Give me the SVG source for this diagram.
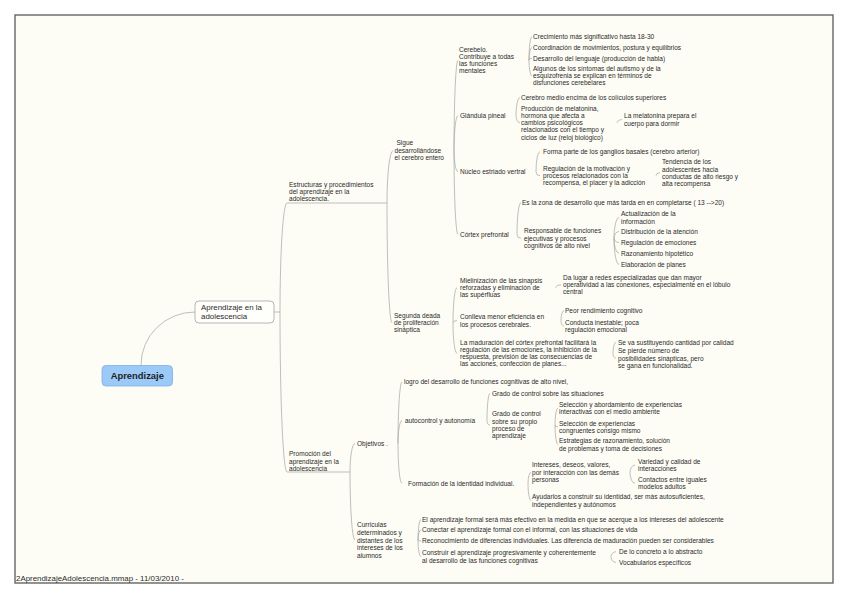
<svg xmlns="http://www.w3.org/2000/svg" width="848" height="599" viewBox="0 0 848 599">
<style>
.t{font-family:"Liberation Sans",Arial,sans-serif;font-size:6.55px;fill:#2b2b2b}
.c{fill:none;stroke:#a3a3a3;stroke-width:0.7}
.u{fill:none;stroke:#a3a3a3;stroke-width:0.7}
</style>
<rect x="0" y="0" width="848" height="599" fill="#ffffff"/>
<rect x="15" y="15" width="818" height="568" fill="#fdfdf6" stroke="#5a5a5a" stroke-width="1.3"/>
<g id="connectors">
<path class="c" d="M141,365 A54,53 0 0 1 195,312"/>
<path class="c" d="M274,312 H280"/>
<path class="c" d="M280,312 A7,109 0 0 1 287,203"/>
<path class="c" d="M280,312 A7,160 0 0 0 287,472"/>
<path class="c" d="M387,203 A6,52.3 0 0 1 393,150.7"/>
<path class="c" d="M387,203 A5,119.7 0 0 0 392,322.7"/>
<path class="c" d="M454,150.7 A4,90.4 0 0 1 458,60.3"/>
<path class="c" d="M454,150.7 A4,35.2 0 0 1 458,115.5"/>
<path class="c" d="M454,150.7 A4,21 0 0 0 458,171.7"/>
<path class="c" d="M454,150.7 A4,83.8 0 0 0 458,234.5"/>
<path class="c" d="M529,60.3 A3,23.6 0 0 1 532,36.7"/>
<path class="c" d="M529,60.3 A3,12.8 0 0 1 532,47.5"/>
<path class="c" d="M529,60.3 A3,2 0 0 1 532,58.3"/>
<path class="c" d="M529,60.3 A3,15.6 0 0 0 532,75.9"/>
<path class="c" d="M516,115.5 A4,18 0 0 1 520,97.5"/>
<path class="c" d="M516,115.5 A4,7.4 0 0 0 520,122.9"/>
<path class="c" d="M617,122.9 A5,3.3 0 0 1 622,119.6"/>
<path class="c" d="M536,171.7 A4,20.2 0 0 1 540,151.5"/>
<path class="c" d="M536,171.7 A4,4 0 0 0 540,175.7"/>
<path class="c" d="M656,175.7 A4,2.9 0 0 1 660,172.8"/>
<path class="c" d="M517,234.5 A4,32 0 0 1 521,202.5"/>
<path class="c" d="M517,234.5 A4,3.7 0 0 0 521,238.2"/>
<path class="c" d="M614,238.2 A5,20.6 0 0 1 619,217.6"/>
<path class="c" d="M614,238.2 A5,6.7 0 0 1 619,231.5"/>
<path class="c" d="M614,238.2 A5,4.3 0 0 0 619,242.5"/>
<path class="c" d="M614,238.2 A5,15.1 0 0 0 619,253.3"/>
<path class="c" d="M614,238.2 A5,26.3 0 0 0 619,264.5"/>
<path class="c" d="M453,322.7 A4,35 0 0 1 457,287.7"/>
<path class="c" d="M453,322.7 A4,2.1 0 0 1 457,320.6"/>
<path class="c" d="M453,322.7 A4,30.6 0 0 0 457,353.3"/>
<path class="c" d="M556,287.7 A5,2.8 0 0 1 561,284.9"/>
<path class="c" d="M561,320.6 A3,9.9 0 0 1 564,310.7"/>
<path class="c" d="M561,320.6 A3,5.5 0 0 0 564,326.1"/>
<path class="c" d="M613,353.3 A3,11 0 0 1 616,342.3"/>
<path class="c" d="M613,353.3 A3,4.9 0 0 0 616,358.2"/>
<path class="c" d="M350,472 A5,28.5 0 0 1 355,443.5"/>
<path class="c" d="M350,472 A5,68 0 0 0 355,540"/>
<path class="c" d="M398,443.5 A4,61.5 0 0 1 402,382"/>
<path class="c" d="M398,443.5 A4,23 0 0 1 402,420.5"/>
<path class="c" d="M398,443.5 A4,40 0 0 0 402,483.5"/>
<path class="c" d="M487,420.5 A3,27.2 0 0 1 490,393.3"/>
<path class="c" d="M487,420.5 A3,4.5 0 0 0 490,425"/>
<path class="c" d="M555,425 A3,17.1 0 0 1 558,407.9"/>
<path class="c" d="M555,425 A3,1.9 0 0 0 558,426.9"/>
<path class="c" d="M555,425 A3,19.6 0 0 0 558,444.6"/>
<path class="c" d="M528,483.5 A3,11.1 0 0 1 531,472.4"/>
<path class="c" d="M528,483.5 A3,17.1 0 0 0 531,500.6"/>
<path class="c" d="M630,472.4 A5,7.3 0 0 1 635,465.1"/>
<path class="c" d="M630,472.4 A5,10.9 0 0 0 635,483.3"/>
<path class="c" d="M418,540 A3,20.5 0 0 1 421,519.5"/>
<path class="c" d="M418,540 A3,10 0 0 1 421,530"/>
<path class="c" d="M418,540 A3,1 0 0 0 421,541"/>
<path class="c" d="M418,540 A3,16.8 0 0 0 421,556.8"/>
<path class="c" d="M611,556.8 A5,5.1 0 0 1 616,551.7"/>
<path class="c" d="M611,556.8 A5,5.7 0 0 0 616,562.5"/>
</g>
<g id="root">
<rect x="102" y="365.5" width="70.5" height="20.5" rx="4" fill="#9ccaf8" stroke="#7eaee0" stroke-width="0.8"/>
<text x="137.3" y="379.3" text-anchor="middle" style="font-family:'Liberation Sans',Arial,sans-serif;font-size:9.4px;font-weight:bold;fill:#1e1e1e">Aprendizaje</text>
</g>
<g id="n-adolescencia">
<rect x="195" y="301" width="79" height="22" rx="4" fill="#fefefb" stroke="#9a9a9a" stroke-width="0.7"/>
<text x="201" y="309.5" style="font-family:'Liberation Sans',Arial,sans-serif;font-size:7.9px;fill:#2b2b2b"><tspan x="201">Aprendizaje en la</tspan><tspan x="201" dy="9.5">adolescencia</tspan></text>
</g>
<g id="n-estructuras">
<text class="t" y="186.8"><tspan x="289">Estructuras y procedimientos</tspan><tspan x="289" dy="7.2">del aprendizaje en la</tspan><tspan x="289" dy="7.2">adolescencia.</tspan></text>
<path class="u" d="M287,203 H387"/>
</g>
<g id="n-promocion">
<text class="t" y="456.3"><tspan x="289">Promoción del</tspan><tspan x="289" dy="7.2">aprendizaje en la</tspan><tspan x="289" dy="7.2">adolescencia</tspan></text>
<path class="u" d="M287,472 H350"/>
</g>
<g id="n-sigue">
<text class="t" y="145.2"><tspan x="396.5">Sigue</tspan><tspan x="394.5" dy="7.4">desarrollándose</tspan><tspan x="394.5" dy="7.4">el cerebro entero</tspan></text>
</g>
<g id="n-segunda">
<text class="t" y="317.8"><tspan x="394">Segunda deada</tspan><tspan x="394" dy="7.2">de proliferación</tspan><tspan x="394" dy="7.2">sináptica</tspan></text>
</g>
<g id="n-cerebelo">
<text class="t" y="51.8"><tspan x="459">Cerebelo.</tspan><tspan x="459" dy="7.2">Contribuye a todas</tspan><tspan x="459" dy="7.2">las funciones</tspan><tspan x="459" dy="7.2">mentales</tspan></text>
</g>
<g id="n-crecimiento"><text class="t" x="533" y="39">Crecimiento más significativo hasta 18-30</text></g>
<g id="n-coordinacion"><text class="t" x="533" y="49.8">Coordinación de movimientos, postura y equilibrios</text></g>
<g id="n-desarrollo"><text class="t" x="533" y="60.6">Desarrollo del lenguaje (producción de habla)</text></g>
<g id="n-algunos">
<text class="t" y="71"><tspan x="533">Algunos de los síntomas del autismo y de la</tspan><tspan x="533" dy="7.2">esquizofrenia se explican en términos de</tspan><tspan x="533" dy="7.2">disfunciones cerebelares</tspan></text>
</g>
<g id="n-glandula"><text class="t" x="460" y="117.8">Glándula pineal</text></g>
<g id="n-cerebro-medio"><text class="t" x="521" y="99.8">Cerebro medio encima de los colículos superiores</text></g>
<g id="n-produccion">
<text class="t" y="110.8"><tspan x="521">Producción de melatonina,</tspan><tspan x="521" dy="7.2">hormona que afecta a</tspan><tspan x="521" dy="7.2">cambios psicológicos</tspan><tspan x="521" dy="7.2">relacionados con el tiempo y</tspan><tspan x="521" dy="7.2">ciclos de luz (reloj biológico)</tspan></text>
</g>
<g id="n-melatonina">
<text class="t" y="118.3"><tspan x="624">La melatonina prepara el</tspan><tspan x="624" dy="7.2">cuerpo para dormir</tspan></text>
</g>
<g id="n-nucleo"><text class="t" x="460" y="174">Núcleo estriado vertral</text></g>
<g id="n-forma"><text class="t" x="543" y="153.8">Forma parte de los ganglios basales (cerebro arterior)</text></g>
<g id="n-regulacion-motivacion">
<text class="t" y="170.8"><tspan x="543">Regulación de la motivación y</tspan><tspan x="543" dy="7.2">procesos relacionados con la</tspan><tspan x="543" dy="7.2">recompensa, el placer y la adicción</tspan></text>
</g>
<g id="n-tendencia">
<text class="t" y="164.3"><tspan x="662">Tendencia de los</tspan><tspan x="662" dy="7.2">adolescentes hacia</tspan><tspan x="662" dy="7.2">conductas de alto riesgo y</tspan><tspan x="662" dy="7.2">alta recompensa</tspan></text>
</g>
<g id="n-cortex"><text class="t" x="460" y="236.8">Córtex prefrontal</text></g>
<g id="n-zona"><text class="t" x="522" y="204.8">Es la zona de desarrollo que más tarda en en completarse ( 13 --&gt;20)</text></g>
<g id="n-responsable">
<text class="t" y="233.3"><tspan x="524">Responsable de funciones</tspan><tspan x="524" dy="7.2">ejecutivas y procesos</tspan><tspan x="524" dy="7.2">cognitivos de alto nivel</tspan></text>
</g>
<g id="n-actualizacion">
<text class="t" y="216.3"><tspan x="621">Actualización de la</tspan><tspan x="621" dy="7.2">información</tspan></text>
</g>
<g id="n-distribucion"><text class="t" x="621" y="233.8">Distribución de la atención</text></g>
<g id="n-regulacion-emociones"><text class="t" x="621" y="244.8">Regulación de emociones</text></g>
<g id="n-razonamiento"><text class="t" x="621" y="255.6">Razonamiento hipotético</text></g>
<g id="n-elaboracion"><text class="t" x="621" y="266.8">Elaboración de planes</text></g>
<g id="n-mielinizacion">
<text class="t" y="282.8"><tspan x="460">Mielinización de las sinapsis</tspan><tspan x="460" dy="7.2">reforzadas y eliminación de</tspan><tspan x="460" dy="7.2">las supérfluas</tspan></text>
</g>
<g id="n-da-lugar">
<text class="t" y="280"><tspan x="563">Da lugar a redes especializadas que dan mayor</tspan><tspan x="563" dy="7.2">operatividad a las conexiones, especialmente en el lóbulo</tspan><tspan x="563" dy="7.2">central</tspan></text>
</g>
<g id="n-conlleva">
<text class="t" y="319.3"><tspan x="460">Conlleva menor eficiencia en</tspan><tspan x="460" dy="7.2">los procesos cerebrales.</tspan></text>
</g>
<g id="n-peor"><text class="t" x="565" y="313">Peor rendimiento cognitivo</text></g>
<g id="n-conducta">
<text class="t" y="324.8"><tspan x="565">Conducta inestable; poca</tspan><tspan x="565" dy="7.2">regulación emocional</tspan></text>
</g>
<g id="n-maduracion">
<text class="t" y="344.8"><tspan x="460">La maduración del córtex prefrontal facilitará la</tspan><tspan x="460" dy="7.2">regulación de las emociones, la inhibición de la</tspan><tspan x="460" dy="7.2">respuesta, previsión de las consecuencias de</tspan><tspan x="460" dy="7.2">las acciones, confección de planes...</tspan></text>
</g>
<g id="n-se-va"><text class="t" x="618" y="344.6">Se va sustituyendo cantidad por calidad</text></g>
<g id="n-se-pierde">
<text class="t" y="353.3"><tspan x="618">Se pierde número de</tspan><tspan x="618" dy="7.2">posibilidades sinápticas, pero</tspan><tspan x="618" dy="7.2">se gana en funcionalidad.</tspan></text>
</g>
<g id="n-objetivos"><text class="t" x="357" y="445.8">Objetivos .</text></g>
<g id="n-logro"><text class="t" x="404" y="384.3">logro del desarrollo de funciones cognitivas de alto nivel,</text></g>
<g id="n-autocontrol"><text class="t" x="405" y="422.8">autocontrol y autonomía</text></g>
<g id="n-grado-situaciones"><text class="t" x="492" y="395.6">Grado de control sobre las situaciones</text></g>
<g id="n-grado-proceso">
<text class="t" y="416.3"><tspan x="492">Grado de control</tspan><tspan x="492" dy="7.2">sobre su propio</tspan><tspan x="492" dy="7.2">proceso de</tspan><tspan x="492" dy="7.2">aprendizaje</tspan></text>
</g>
<g id="n-seleccion-abordamiento">
<text class="t" y="406.6"><tspan x="559">Selección y abordamiento de experiencias</tspan><tspan x="559" dy="7.2">interactivas con el medio ambiente</tspan></text>
</g>
<g id="n-seleccion-experiencias">
<text class="t" y="425.6"><tspan x="559">Selección de experiencias</tspan><tspan x="559" dy="7.2">congruentes consigo mismo</tspan></text>
</g>
<g id="n-estrategias">
<text class="t" y="443.3"><tspan x="559">Estrategias de razonamiento, solución</tspan><tspan x="559" dy="7.2">de problemas y toma de decisiones</tspan></text>
</g>
<g id="n-formacion"><text class="t" x="408" y="485.8">Formación de la identidad individual.</text></g>
<g id="n-intereses">
<text class="t" y="467.3"><tspan x="532">Intereses, deseos, valores,</tspan><tspan x="532" dy="7.2">por interacción con las demás</tspan><tspan x="532" dy="7.2">personas</tspan></text>
</g>
<g id="n-variedad">
<text class="t" y="463.8"><tspan x="638">Variedad y calidad de</tspan><tspan x="638" dy="7.2">interacciones</tspan></text>
</g>
<g id="n-contactos">
<text class="t" y="482"><tspan x="638">Contactos entre iguales</tspan><tspan x="638" dy="7.2">modelos adultos</tspan></text>
</g>
<g id="n-ayudarlos">
<text class="t" y="499.3"><tspan x="532">Ayudarlos a construir su identidad, ser más autosuficientes,</tspan><tspan x="532" dy="7.2">independientes y autónomos</tspan></text>
</g>
<g id="n-curriculas">
<text class="t" y="527.3"><tspan x="357">Curriculas</tspan><tspan x="357" dy="7.6">determinados y</tspan><tspan x="357" dy="7.6">distantes de los</tspan><tspan x="357" dy="7.6">intereses de los</tspan><tspan x="357" dy="7.6">alumnos</tspan></text>
</g>
<g id="n-aprendizaje-formal"><text class="t" x="422" y="521.8">El aprendizaje formal será más efectivo en la medida en que se acerque a los intereses del adolescente</text></g>
<g id="n-conectar"><text class="t" x="422" y="532.3">Conectar el aprendizaje formal con el informal, con las situaciones de vida</text></g>
<g id="n-reconocimiento"><text class="t" x="422" y="543.3">Reconocimiento de diferencias individuales. Las diferencia de maduración pueden ser considerables</text></g>
<g id="n-construir">
<text class="t" y="555.3"><tspan x="422">Construir el aprendizaje progresivamente y coherentemente</tspan><tspan x="422" dy="7.2">al desarrollo de las funciones cognitivas</tspan></text>
</g>
<g id="n-concreto"><text class="t" x="619" y="554">De lo concreto a lo abstracto</text></g>
<g id="n-vocabularios"><text class="t" x="619" y="564.8">Vocabularios específicos</text></g>
<text x="16" y="581" style="font-family:'Liberation Sans',Arial,sans-serif;font-size:7.9px;fill:#2b2b2b">2AprendizajeAdolescencia.mmap - 11/03/2010 -</text>
</svg>
